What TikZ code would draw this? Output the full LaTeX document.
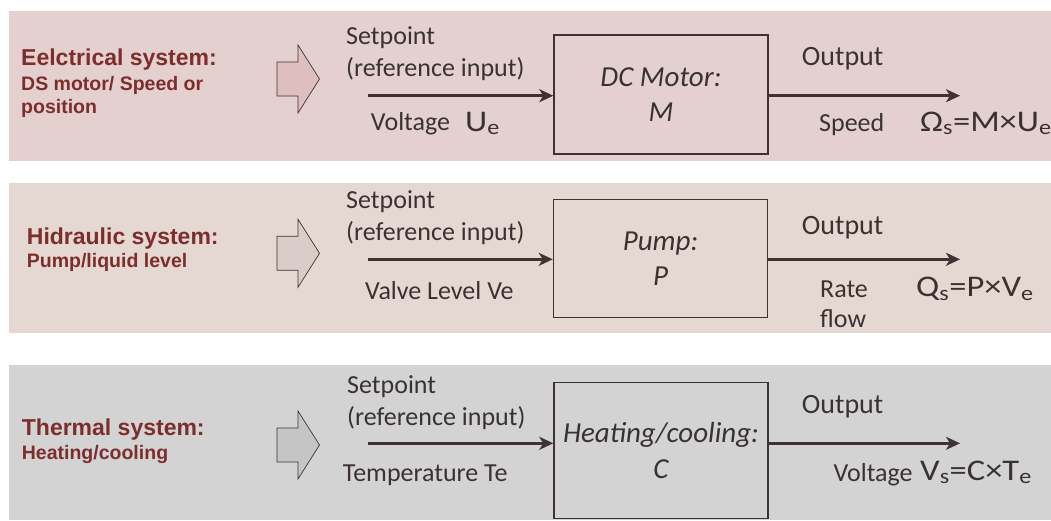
\documentclass[tikz,border=0pt]{standalone}
\usepackage{fontspec}
\setmainfont{Carlito}
\newfontfamily\titlefont{Liberation Sans}
\newfontfamily\formfont[FakeStretch=1.15]{Carlito}
\usepackage{tikz}
\usetikzlibrary{arrows.meta,calc,positioning}
\definecolor{elecbg}{RGB}{229,208,208}
\definecolor{hydrbg}{RGB}{229,216,210}
\definecolor{thermbg}{RGB}{211,211,211}
\definecolor{elecarr}{RGB}{222,190,190}
\definecolor{hydrarr}{RGB}{217,205,201}
\definecolor{thermarr}{RGB}{197,197,197}
\definecolor{titlered}{RGB}{125,45,45}
\definecolor{txtgray}{RGB}{58,50,50}
\definecolor{linegray}{RGB}{64,50,50}
\tikzset{
  every picture/.style={line join=miter},
}

\begin{document}
\begin{tikzpicture}[x=1pt, y=-1pt,
  lbl/.style={font=\fontsize{26}{32}\selectfont, text=txtgray, inner sep=0pt, anchor=base west, align=left},
  outlbl/.style={lbl, font=\fontsize{28}{32}\selectfont},
  formula/.style={lbl, font=\formfont\fontsize{30}{32}\selectfont},
  systitle/.style={font=\titlefont\bfseries\fontsize{23}{26}\selectfont, text=titlered, inner sep=0pt, anchor=base west},
  syssub/.style={font=\titlefont\bfseries\fontsize{19.5}{23}\selectfont, text=titlered, inner sep=0pt, anchor=base west, align=left},
  plant/.style={draw=linegray, line width=1.5pt, minimum width=214pt, text=txtgray, align=center,
    font=\itshape\fontsize{29}{35.5}\selectfont},
  signal/.style={draw=linegray, line width=3pt, -{Stealth[length=14pt, width=13pt, inset=4pt]}},
  blockarr/.style={draw=linegray, line width=0.7pt},
]
\useasboundingbox (0,0) rectangle (1051,520);
% Three background bands
\fill[elecbg] (9,11) rectangle (1051,161);
\fill[hydrbg] (9,183) rectangle (1051,333);
\fill[thermbg] (9,365) rectangle (1051,520);

% Electrical system
\node[systitle] (elecT) at (21,65) {Eelctrical system:};
\node[syssub] (elecS) at (21,113) {DS motor/ Speed or\\position};
\draw[blockarr, fill=elecarr] (277,62) -- ++(21,0) -- ++(0,-17) -- ++(21.5,34) -- ++(-21.5,34) -- ++(0,-17) -- ++(-21,0) -- cycle;
\node[lbl] (elecSet) at (346,76) {Setpoint\\(reference input)};
\node[plant, minimum height=119pt] (motor) at (661,94.5) {DC Motor:\\M};
\coordinate (elecIn) at (368,95.7);
\coordinate (elecOut) at (960,95.7);
\draw[signal] (elecIn) -- (elecIn -| motor.west);
\draw[signal] (motor.east |- elecOut) -- (elecOut);
\node[lbl] (elecInL) at (370.7,130) {Voltage};
\node[formula] (elecInF) at (465,131) {U\textsubscript{e}};
\node[outlbl] (elecOutT) at (801.7,65) {Output};
\node[lbl] (elecOutL) at (819,131.7) {Speed};
\node[formula] (elecOutF) at (920,131) {Ω\textsubscript{s}=M×U\textsubscript{e}};

% Hydraulic system
\node[systitle] (hydrT) at (26.7,244) {Hidraulic system:};
\node[syssub] (hydrS) at (26.7,267) {Pump/liquid level};
\draw[blockarr, fill=hydrarr] (277,236.3) -- ++(21,0) -- ++(0,-17) -- ++(21.5,34) -- ++(-21.5,34) -- ++(0,-17) -- ++(-21,0) -- cycle;
\node[lbl] (hydrSet) at (346,240.7) {Setpoint\\(reference input)};
\node[plant, minimum height=118.4pt] (pump) at (660.5,258.5) {Pump:\\P};
\coordinate (hydrIn) at (368,259.3);
\coordinate (hydrOut) at (960,259.3);
\draw[signal] (hydrIn) -- (hydrIn -| pump.west);
\draw[signal] (pump.east |- hydrOut) -- (hydrOut);
\node[lbl] (hydrInL) at (365,299.3) {Valve Level Ve};
\node[outlbl] (hydrOutT) at (801.7,234) {Output};
\node[lbl, font=\fontsize{26}{30}\selectfont] (hydrOutL) at (820,327.3) {Rate\\flow};
\node[formula] (hydrOutF) at (916,296.5) {Q\textsubscript{s}=P×V\textsubscript{e}};

% Thermal system
\node[systitle] (thermT) at (21.7,435) {Thermal system:};
\node[syssub] (thermS) at (21.7,459) {Heating/cooling};
\draw[blockarr, fill=thermarr] (277,428) -- ++(21,0) -- ++(0,-17) -- ++(21.5,34) -- ++(-21.5,34) -- ++(0,-17) -- ++(-21,0) -- cycle;
\node[lbl] (thermSet) at (347,425) {Setpoint\\(reference input)};
\node[plant, minimum height=135.6pt] (heater) at (661,450.5) {Heating/cooling:\\C};
\coordinate (thermIn) at (368,443.3);
\coordinate (thermOut) at (960,443.3);
\draw[signal] (thermIn) -- (thermIn -| heater.west);
\draw[signal] (heater.east |- thermOut) -- (thermOut);
\node[lbl] (thermInL) at (342.7,481.7) {Temperature Te};
\node[outlbl] (thermOutT) at (801.7,413.3) {Output};
\node[lbl] (thermOutL) at (833.3,481) {Voltage};
\node[formula] (thermOutF) at (920,480) {V\textsubscript{s}=C×T\textsubscript{e}};
\end{tikzpicture}
\end{document}
